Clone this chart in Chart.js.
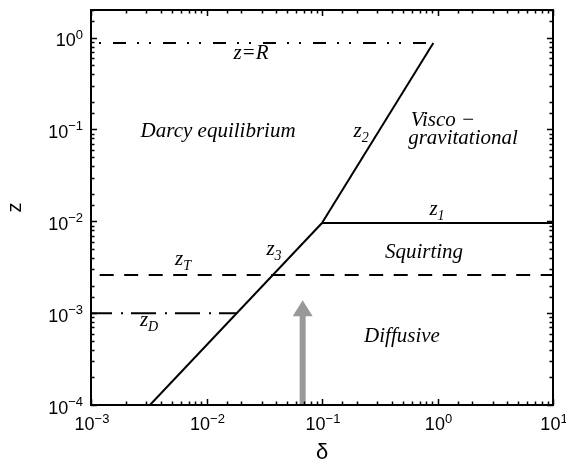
<!DOCTYPE html>
<html><head><meta charset="utf-8">
<script src="https://cdn.jsdelivr.net/npm/chart.js@4.4.1/dist/chart.umd.min.js"></script>
<style>html,body{margin:0;padding:0;background:#fff}#wrap{width:566px;height:466px;position:relative}</style>
</head><body><div id="wrap"><canvas id="c"></canvas></div>
<script>
// ---- data ----
const xTickExps = [-3, -2, -1, 0, 1];
const yTickExps = [-4, -3, -2, -1, 0];

const z3Delta = [0.00324, 0.1];   const z3Z = [1e-4, 0.0096];
const z2Delta = [0.1, 0.92];      const z2Z = [0.0096, 0.875];
const z1Delta = [0.1, 10];        const z1Z = [0.0096, 0.0096];
const zRDelta = [0.001, 0.92];    const zRZ = [0.875, 0.875];
const zTDelta = [0.001, 10];      const zTZ = [0.0026, 0.0026];
const zDDelta = [0.001, 0.0183];  const zDZ = [0.001, 0.001];

const arrowDelta = [0.068, 0.068];
const arrowZ = [1e-4, 0.00138];

const regionTexts = ['z=R', 'Darcy equilibrium', 'Visco \u2212', 'gravitational', 'Squirting', 'Diffusive'];
const regionDelta = [0.0243, 0.0126, 1.116, 1.663, 0.764, 0.493];
const regionZ     = [0.68, 0.0962, 0.1267, 0.0807, 0.00463, 0.000563];

const curveSubs  = ['2', '1', '3', 'T', 'D'];
const curveDelta = [0.218, 0.99, 0.0384, 0.00627, 0.00318];
const curveZ     = [0.0892, 0.01262, 0.00463, 0.0036, 0.00078];

function pts(xs, ys) { return xs.map((x, i) => ({x: x, y: ys[i]})); }
function isMajor(v) { const l = Math.log10(v); return Math.abs(l - Math.round(l)) < 1e-9; }
function expStr(e) { return e < 0 ? '\u2212' + Math.abs(e) : String(e); }

const SERIF_IT = 'italic 21px "Liberation Serif", "Times New Roman", serif';
const SERIF_IT_SUB = 'italic 14px "Liberation Serif", "Times New Roman", serif';
const SANS_BASE = '18px "Liberation Sans", Arial, sans-serif';
const SANS_EXP = '13px "Liberation Sans", Arial, sans-serif';

const decor = {
  id: 'decor',
  afterDatasetsDraw(chart) {
    const ctx = chart.ctx, xs = chart.scales.x, ys = chart.scales.y, a = chart.chartArea;
    ctx.save();
    // grey arrow
    const ax = xs.getPixelForValue(arrowDelta[0]);
    const ay0 = ys.getPixelForValue(arrowZ[0]);
    const ay1 = ys.getPixelForValue(arrowZ[1]);
    ctx.fillStyle = '#999999';
    const headH = 16, headW = 20, shaftW = 6;
    ctx.fillRect(ax - shaftW / 2, ay1 + headH - 1, shaftW, ay0 - (ay1 + headH - 1));
    ctx.beginPath();
    ctx.moveTo(ax, ay1);
    ctx.lineTo(ax - headW / 2, ay1 + headH);
    ctx.lineTo(ax + headW / 2, ay1 + headH);
    ctx.closePath();
    ctx.fill();

    // region labels
    ctx.fillStyle = '#000';
    ctx.font = SERIF_IT;
    ctx.textAlign = 'center';
    ctx.textBaseline = 'middle';
    regionTexts.forEach((t, i) => {
      ctx.fillText(t, xs.getPixelForValue(regionDelta[i]), ys.getPixelForValue(regionZ[i]));
    });
    // curve labels z_sub
    curveSubs.forEach((s, i) => {
      const cx = xs.getPixelForValue(curveDelta[i]);
      const cy = ys.getPixelForValue(curveZ[i]);
      ctx.font = SERIF_IT; const wz = ctx.measureText('z').width;
      ctx.font = SERIF_IT_SUB; const ws = ctx.measureText(s).width;
      const x0 = cx - (wz + ws) / 2;
      ctx.textAlign = 'left';
      ctx.textBaseline = 'alphabetic';
      ctx.font = SERIF_IT;
      ctx.fillText('z', x0, cy + 3);
      ctx.font = SERIF_IT_SUB;
      ctx.fillText(s, x0 + wz, cy + 8);
    });

    // box
    ctx.strokeStyle = '#000';
    ctx.lineWidth = 2;
    ctx.strokeRect(a.left, a.top, a.right - a.left, a.bottom - a.top);
    // inward ticks on all sides
    ctx.lineWidth = 1.5;
    ctx.beginPath();
    xs.ticks.forEach(t => {
      const p = Math.round(xs.getPixelForValue(t.value)) + 0.5;
      const L = isMajor(t.value) ? 6 : 3.5;
      ctx.moveTo(p, a.bottom); ctx.lineTo(p, a.bottom - L);
      ctx.moveTo(p, a.top); ctx.lineTo(p, a.top + L);
    });
    ys.ticks.forEach(t => {
      const p = Math.round(ys.getPixelForValue(t.value)) + 0.5;
      const L = isMajor(t.value) ? 6 : 3.5;
      ctx.moveTo(a.left, p); ctx.lineTo(a.left + L, p);
      ctx.moveTo(a.right, p); ctx.lineTo(a.right - L, p);
    });
    ctx.stroke();

    // tick labels 10^n
    ctx.fillStyle = '#000';
    ctx.textBaseline = 'alphabetic';
    ctx.textAlign = 'left';
    xTickExps.forEach(e => {
      const p = xs.getPixelForValue(Math.pow(10, e));
      ctx.font = SANS_BASE; const wb = ctx.measureText('10').width;
      ctx.font = SANS_EXP; const we = ctx.measureText(expStr(e)).width;
      const x0 = p - (wb + we) / 2 + 1;
      ctx.font = SANS_BASE; ctx.fillText('10', x0, a.bottom + 25);
      ctx.font = SANS_EXP; ctx.fillText(expStr(e), x0 + wb, a.bottom + 18);
    });
    yTickExps.forEach(e => {
      const p = ys.getPixelForValue(Math.pow(10, e));
      ctx.font = SANS_BASE; const wb = ctx.measureText('10').width;
      ctx.font = SANS_EXP; const we = ctx.measureText(expStr(e)).width;
      const xr = a.left - 8;
      const x0 = xr - wb - we;
      ctx.font = SANS_BASE; ctx.fillText('10', x0, p + 8.5);
      ctx.font = SANS_EXP; ctx.fillText(expStr(e), x0 + wb, p + 1);
    });
    ctx.restore();
  }
};

const lineStyle = {showLine: true, pointRadius: 0, borderColor: '#000', borderWidth: 2, fill: false};

new Chart(document.getElementById('c'), {
  type: 'scatter',
  data: {
    datasets: [
      Object.assign({label: 'z3', data: pts(z3Delta, z3Z)}, lineStyle),
      Object.assign({label: 'z2', data: pts(z2Delta, z2Z)}, lineStyle),
      Object.assign({label: 'z1', data: pts(z1Delta, z1Z)}, lineStyle),
      Object.assign({label: 'z=R', data: pts(zRDelta, zRZ), borderDash: [13, 11, 2, 10, 2, 12], borderDashOffset: 28}, lineStyle),
      Object.assign({label: 'zT', data: pts(zTDelta, zTZ), borderDash: [14, 10.5], borderDashOffset: 15.8}, lineStyle),
      Object.assign({label: 'zD', data: pts(zDDelta, zDZ), borderDash: [25, 9, 2, 8], borderDashOffset: 4}, lineStyle)
    ]
  },
  options: {
    responsive: true,
    maintainAspectRatio: false,
    animation: false,
    layout: {padding: {left: 0, right: 13, top: 10, bottom: 0}},
    plugins: {legend: {display: false}, tooltip: {enabled: false}},
    scales: {
      x: {
        type: 'logarithmic', min: 1e-3, max: 10,
        grid: {display: false}, border: {display: false},
        ticks: {display: false, autoSkip: false},
        title: {display: true, text: '\u03b4', color: '#000', padding: {top: 0, bottom: 0},
                font: {family: '"Liberation Sans", Arial, sans-serif', size: 22}},
        afterFit(s) { s.height = 61; }
      },
      y: {
        type: 'logarithmic', min: 1e-4, max: 2,
        grid: {display: false}, border: {display: false},
        ticks: {display: false, autoSkip: false},
        title: {display: true, text: 'z', color: '#000', padding: {top: 3, bottom: 0},
                font: {family: '"Liberation Sans", Arial, sans-serif', size: 20}},
        afterFit(s) { s.width = 91; }
      }
    }
  },
  plugins: [decor]
});
</script>
</body></html>
